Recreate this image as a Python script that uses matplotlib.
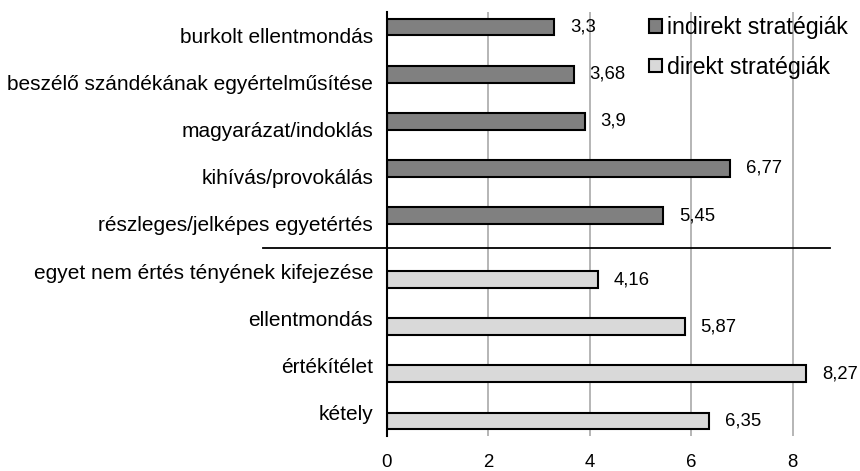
import matplotlib
matplotlib.use("Agg")
import matplotlib.pyplot as plt
import numpy as np

# categories, top to bottom
indirect_labels = ["burkolt ellentmondás", "beszélő szándékának egyértelműsítése",
                   "magyarázat/indoklás", "kihívás/provokálás",
                   "részleges/jelképes egyetértés"]
indirect_values = [3.3, 3.68, 3.9, 6.77, 5.45]
direct_labels = ["egyet nem értés tényének kifejezése", "ellentmondás",
                 "értékítélet", "kétely"]
direct_values = [4.16, 5.87, 8.27, 6.35]
series_names = ["indirekt stratégiák", "direkt stratégiák"]
xticks = [0, 2, 4, 6, 8]

plt.rcParams['font.family'] = ['Liberation Sans', 'DejaVu Sans']

fig = plt.figure(figsize=(8.6, 4.71), dpi=100)
ax = fig.add_axes([387 / 860, 1 - 436 / 471, 441 / 860, 424 / 471])

n_ind = len(indirect_labels)
pos_ind = np.arange(n_ind)
pos_dir = np.arange(len(direct_labels)) + n_ind
off = 0.18
h = 0.355

ax.barh(pos_ind - off, indirect_values, height=h, color="#808080",
        edgecolor="black", linewidth=1.5, label=series_names[0], zorder=3)
ax.barh(pos_dir + off, direct_values, height=h, color="#d9d9d9",
        edgecolor="black", linewidth=1.5, label=series_names[1], zorder=3)

# value labels with decimal comma
for p, v in zip(pos_ind - off, indirect_values):
    ax.annotate(f"{v:g}".replace(".", ","), (v, p), xytext=(11.5, 0),
                textcoords="offset points", va="center", ha="left", fontsize=13.3)
for p, v in zip(pos_dir + off, direct_values):
    ax.annotate(f"{v:g}".replace(".", ","), (v, p), xytext=(11.5, 0),
                textcoords="offset points", va="center", ha="left", fontsize=13.3)

ax.set_yticks(list(pos_ind) + list(pos_dir))
ax.set_yticklabels(indirect_labels + direct_labels, fontsize=15)
ax.set_ylim(n_ind + len(direct_labels) - 0.5, -0.5)
ax.set_xlim(0, 8.7)
ax.set_xticks(xticks)
ax.set_xticklabels([str(t) for t in xticks], fontsize=13.4)
ax.tick_params(axis="both", length=0)
ax.tick_params(axis="x", pad=13)
ax.tick_params(axis="y", pad=10)

ax.grid(axis="x", color="#b0b0b0", linewidth=1.3, zorder=0)
for s in ["top", "right", "bottom"]:
    ax.spines[s].set_visible(False)
ax.spines["left"].set_linewidth(1.5)
ax.spines["left"].set_zorder(4)

# separator between the two groups
ax.axhline(n_ind - 0.5, xmin=-0.281, xmax=1.005, color="black",
           linewidth=1.3, clip_on=False)

fig.legend(loc="upper left", bbox_to_anchor=(649 / 860, 1 - 16 / 471),
           frameon=False, fontsize=16.7, handlelength=0.56, handleheight=0.52,
           handletextpad=0.2, labelspacing=0.73, borderpad=0, borderaxespad=0)

fig.savefig("out.png", dpi=100)
